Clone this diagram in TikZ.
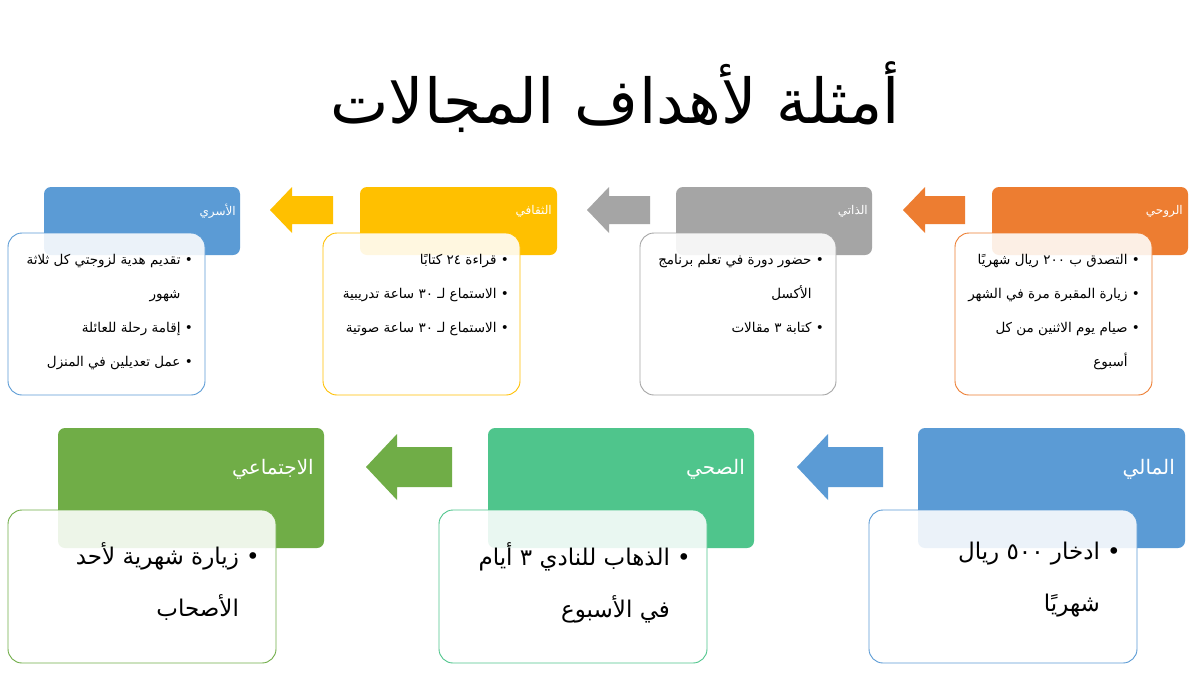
\documentclass[tikz,border=0pt]{standalone}
\usepackage{fontspec}
\newfontfamily\arabicfont[Script=Arabic]{DejaVu Sans}
\TeXXeTstate=1
\newcommand\AR[1]{\beginR #1\endR}
\definecolor{cBlue}{HTML}{5B9BD5}
\definecolor{cGold}{HTML}{FFC000}
\definecolor{cGray}{HTML}{A5A5A5}
\definecolor{cOrange}{HTML}{ED7D31}
\definecolor{cGreen}{HTML}{70AD47}
\definecolor{cTeal}{HTML}{4FC58C}
\newcommand\blockarrow[7]{%
  \fill[#1] (#2,#4) -- ({#2+#7},{#4-#6}) -- ({#2+#7},{#4-#5}) -- (#3,{#4-#5}) -- (#3,{#4+#5}) -- ({#2+#7},{#4+#5}) -- ({#2+#7},{#4+#6}) -- cycle;}
\tikzset{
  hdr/.style={fill=#1, draw=none, rounded corners=7pt, anchor=north west, inner sep=0pt, outer sep=0pt},
  bodybox/.style={draw=#1, line width=0.9pt, fill=white, fill opacity=0.88, rounded corners=14pt, anchor=north west, inner sep=0pt, outer sep=0pt},
  hdrS/.style={text=white, anchor=east, inner sep=0pt, font=\arabicfont\fontsize{12}{14}\selectfont},
  hdrL/.style={text=white, anchor=east, inner sep=0pt, font=\arabicfont\fontsize{20}{24}\selectfont},
  txtS/.style={text=black, anchor=north east, inner sep=0pt, align=right, font=\arabicfont\fontsize{13.5}{34}\selectfont},
  txtL/.style={text=black, anchor=north east, inner sep=0pt, align=right, font=\arabicfont\fontsize{23}{52}\selectfont},
}
\begin{document}
\begin{tikzpicture}[x=1pt,y=-1pt]
\useasboundingbox[fill=white] (0,0) rectangle (1200,675);
% title
\node[font=\arabicfont\fontsize{62}{70}\selectfont, inner sep=0pt] (title) at (615,97) {\AR{أمثلة لأهداف المجالات}};
% arrows top
\blockarrow{cGold}{270}{333}{210}{14}{23}{22}
\blockarrow{cGray}{587}{650}{210}{14}{23}{22}
\blockarrow{cOrange}{903}{965}{210}{14}{23}{22}
% arrows bottom
\blockarrow{cGreen}{366}{452}{467}{20}{33}{31}
\blockarrow{cBlue}{797}{883}{467}{20}{33}{31}
% top row headers
\node[hdr=cBlue, minimum width=196pt, minimum height=68pt] (h1) at (44,187) {};
\node[hdr=cGold, minimum width=197pt, minimum height=68pt] (h2) at (360,187) {};
\node[hdr=cGray, minimum width=196pt, minimum height=68pt] (h3) at (676,187) {};
\node[hdr=cOrange, minimum width=196pt, minimum height=68pt] (h4) at (992,187) {};
\node[hdrS] (ht1) at (236,211) {\AR{الأسري}};
\node[hdrS] (ht2) at (552,211) {\AR{الثقافي}};
\node[hdrS] (ht3) at (868,211) {\AR{الذاتي}};
\node[hdrS] (ht4) at (1183,211) {\AR{الروحي}};
% top row bodies
\node[bodybox=cBlue, minimum width=197pt, minimum height=162pt] (b1) at (8,233) {};
\node[bodybox=cGold, minimum width=197pt, minimum height=162pt] (b2) at (323,233) {};
\node[bodybox=cGray, minimum width=196pt, minimum height=162pt] (b3) at (640,233) {};
\node[bodybox=cOrange, minimum width=197pt, minimum height=162pt] (b4) at (955,233) {};
\node[txtS] (t1) at (193,254) {\AR{• تقديم هدية لزوجتي كل ثلاثة}\\\AR{\hphantom{• }شهور}\\\AR{• إقامة رحلة للعائلة}\\\AR{• عمل تعديلين في المنزل}};
\node[txtS] (t2) at (509,254) {\AR{• قراءة ٢٤ كتابًا}\\\AR{• الاستماع لـ ٣٠ ساعة تدريبية}\\\AR{• الاستماع لـ ٣٠ ساعة صوتية}};
\node[txtS] (t3) at (824,254) {\AR{• حضور دورة في تعلم برنامج}\\\AR{\hphantom{• }الأكسل}\\\AR{• كتابة ٣ مقالات}};
\node[txtS] (t4) at (1140,254) {\AR{• التصدق ب ٢٠٠ ريال شهريًا}\\\AR{• زيارة المقبرة مرة في الشهر}\\\AR{• صيام يوم الاثنين من كل}\\\AR{\hphantom{• }أسبوع}};
% bottom row headers
\node[hdr=cGreen, minimum width=266pt, minimum height=120pt] (h5) at (58,428) {};
\node[hdr=cTeal, minimum width=266pt, minimum height=120pt] (h6) at (488,428) {};
\node[hdr=cBlue, minimum width=267pt, minimum height=120pt] (h7) at (918,428) {};
\node[hdrL] (ht5) at (314,469) {\AR{الاجتماعي}};
\node[hdrL] (ht6) at (745,469) {\AR{الصحي}};
\node[hdrL] (ht7) at (1175,469) {\AR{المالي}};
% bottom row bodies
\node[bodybox=cGreen, minimum width=268pt, minimum height=153pt] (b5) at (8,510) {};
\node[bodybox=cTeal, minimum width=268pt, minimum height=153pt] (b6) at (439,510) {};
\node[bodybox=cBlue, minimum width=268pt, minimum height=153pt] (b7) at (869,510) {};
\node[txtL] (t5) at (260,542) {\AR{• زيارة شهرية لأحد}\\\AR{\hphantom{• }الأصحاب}};
\node[txtL] (t6) at (691,542) {\AR{• الذهاب للنادي ٣ أيام}\\\AR{\hphantom{• }في الأسبوع}};
\node[txtL] (t7) at (1121,542) {\AR{• ادخار ٥٠٠ ريال}\\\AR{\hphantom{• }شهريًا}};
\end{tikzpicture}
\end{document}
